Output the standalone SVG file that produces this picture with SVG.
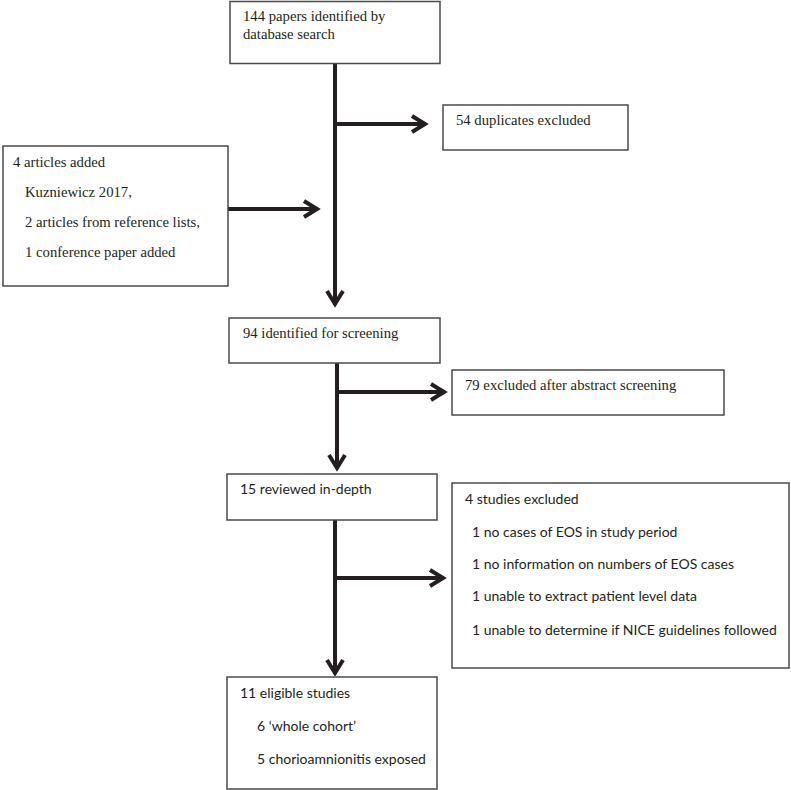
<svg xmlns="http://www.w3.org/2000/svg" width="791" height="790" viewBox="0 0 791 790">
<style>
.box{fill:#fff;stroke:#4a4a4a;stroke-width:1.5}
.ser{font-family:"Liberation Serif","Times New Roman",serif;font-size:14.7px;fill:#231f20}
.san{font-family:Lato,"Open Sans",sans-serif;font-size:14px;fill:#231f20}
.ln{stroke:#231f20;stroke-width:4;fill:none}
</style>
<defs>
<marker id="ah" markerUnits="userSpaceOnUse" markerWidth="30" markerHeight="30" viewBox="-20 -15 30 30" refX="0" refY="0" orient="auto">
<path d="M-14,-8 L-1,0 L-14,8" fill="none" stroke="#231f20" stroke-width="4"/>
</marker>
</defs>
<rect width="791" height="790" fill="#fff"/>
<g id="connectors">
<line class="ln" x1="335" y1="63" x2="335" y2="305" marker-end="url(#ah)"/>
<line class="ln" x1="335" y1="124" x2="426" y2="124" marker-end="url(#ah)"/>
<line class="ln" x1="228" y1="209" x2="318" y2="209" marker-end="url(#ah)"/>
<line class="ln" x1="337" y1="363" x2="337" y2="469" marker-end="url(#ah)"/>
<line class="ln" x1="337" y1="392" x2="445" y2="392" marker-end="url(#ah)"/>
<line class="ln" x1="335" y1="520" x2="335" y2="674" marker-end="url(#ah)"/>
<line class="ln" x1="335" y1="578" x2="444" y2="578" marker-end="url(#ah)"/>
</g>
<g id="n1">
<rect class="box" x="230" y="1.5" width="210" height="62"/>
<text class="ser" x="243" y="21">144 papers identified by</text>
<text class="ser" x="243" y="39">database search</text>
</g>
<g id="n2">
<rect class="box" x="443" y="105" width="185" height="45"/>
<text class="ser" x="456" y="125">54 duplicates excluded</text>
</g>
<g id="n3">
<rect class="box" x="3" y="146" width="225" height="140"/>
<text class="ser" x="13" y="167">4 articles added</text>
<text class="ser" x="25" y="197">Kuzniewicz 2017,</text>
<text class="ser" x="25" y="227">2 articles from reference lists,</text>
<text class="ser" x="25" y="257">1 conference paper added</text>
</g>
<g id="n4">
<rect class="box" x="229" y="318" width="211" height="45"/>
<text class="ser" x="243" y="338">94 identified for screening</text>
</g>
<g id="n5">
<rect class="box" x="452" y="370" width="272" height="45"/>
<text class="ser" x="465" y="390">79 excluded after abstract screening</text>
</g>
<g id="n6">
<rect class="box" x="227" y="474" width="210" height="46"/>
<text class="san" x="240" y="494">15 reviewed in-depth</text>
</g>
<g id="n7">
<rect class="box" x="452" y="483" width="337" height="185"/>
<text class="san" x="465" y="504">4 studies excluded</text>
<text class="san" x="472" y="537">1 no cases of EOS in study period</text>
<text class="san" x="472" y="569">1 no information on numbers of EOS cases</text>
<text class="san" x="472" y="601">1 unable to extract patient level data</text>
<text class="san" x="472" y="635">1 unable to determine if NICE guidelines followed</text>
</g>
<g id="n8">
<rect class="box" x="227" y="677" width="210" height="112"/>
<text class="san" x="240" y="698">11 eligible studies</text>
<text class="san" x="257" y="731">6 ‘whole cohort’</text>
<text class="san" x="257" y="764">5 chorioamnionitis exposed</text>
</g>
</svg>
